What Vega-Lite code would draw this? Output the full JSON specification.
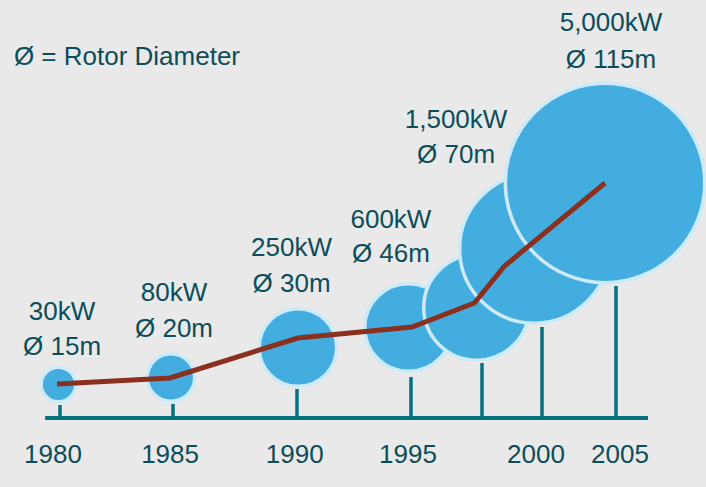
{
  "$schema": "https://vega.github.io/schema/vega-lite/v6.json",
  "width": 706,
  "height": 487,
  "autosize": "none",
  "padding": 0,
  "background": "#e9e9e9",
  "config": {"view": {"stroke": null}},
  "datasets": {
    "base": [{"from": 1979.34, "to": 2007.16, "level": 0}],
    "stems": [
      {"year": 1980, "top": 3.25},
      {"year": 1985, "top": 3.5},
      {"year": 1990, "top": 7.25},
      {"year": 1995, "top": 10.25},
      {"year": 1997.71, "top": 13.75},
      {"year": 2000, "top": 22.75},
      {"year": 2005, "top": 33}
    ],
    "turbines": [
      {"i": 1, "year": 1979.93, "level": 8.375, "r": 17.25},
      {"i": 2, "year": 1984.91, "level": 10.125, "r": 23.75},
      {"i": 3, "year": 1990.04, "level": 17.625, "r": 38.75},
      {"i": 4, "year": 1994.89, "level": 22.625, "r": 43.75},
      {"i": 5, "year": 1997.5, "level": 27.625, "r": 52.75},
      {"i": 6, "year": 1999.71, "level": 42.375, "r": 74.75},
      {"i": 7, "year": 2004.26, "level": 58.75, "r": 99.75}
    ],
    "trend": [
      {"i": 1, "year": 1979.87, "level": 8.5},
      {"i": 2, "year": 1984.87, "level": 10},
      {"i": 3, "year": 1990.04, "level": 20},
      {"i": 4, "year": 1995.04, "level": 22.75},
      {"i": 5, "year": 1997.42, "level": 28.75},
      {"i": 6, "year": 1998.57, "level": 38},
      {"i": 7, "year": 2004.26, "level": 58.75}
    ],
    "labels": [
      {"year": 1980.09, "level": 26.5, "text": "30kW"},
      {"year": 1980.09, "level": 17.75, "text": "Ø 15m"},
      {"year": 1985.04, "level": 31.25, "text": "80kW"},
      {"year": 1985.04, "level": 22.25, "text": "Ø 20m"},
      {"year": 1989.78, "level": 42.5, "text": "250kW"},
      {"year": 1989.78, "level": 33.5, "text": "Ø 30m"},
      {"year": 1994.12, "level": 49.5, "text": "600kW"},
      {"year": 1994.12, "level": 41, "text": "Ø 46m"},
      {"year": 1996.72, "level": 74.5, "text": "1,500kW"},
      {"year": 1996.72, "level": 65.75, "text": "Ø 70m"},
      {"year": 2004.66, "level": 98.75, "text": "5,000kW"},
      {"year": 2004.66, "level": 89.5, "text": "Ø 115m"},
      {"year": 1979.69, "level": -9.25, "text": "1980"},
      {"year": 1984.87, "level": -9.25, "text": "1985"},
      {"year": 1989.91, "level": -9.25, "text": "1990"},
      {"year": 1994.87, "level": -9.25, "text": "1995"},
      {"year": 1999.77, "level": -9.25, "text": "2000"},
      {"year": 2005.27, "level": -9.25, "text": "2005"}
    ],
    "note": [{"year": 1977.96, "level": 90.25, "text": "Ø = Rotor Diameter"}]
  },
  "layer": [
    {
      "data": {"name": "base"},
      "mark": {"type": "rule", "color": "#04717f", "strokeWidth": 4},
      "encoding": {
        "x": {"field": "from", "type": "quantitative", "axis": null,
              "scale": {"domain": [1980, 1985, 1990, 1995, 2000, 2005], "range": [60, 173, 297, 411, 542, 616], "nice": false, "zero": false}},
        "x2": {"field": "to"},
        "y": {"field": "level", "type": "quantitative", "axis": null,
              "scale": {"domain": [0, 100], "range": [418, 18], "nice": false, "zero": false}}
      }
    },
    {
      "data": {"name": "stems"},
      "mark": {"type": "rule", "color": "#04717f", "strokeWidth": 3.5},
      "encoding": {
        "x": {"field": "year", "type": "quantitative"},
        "y": {"field": "top", "type": "quantitative"},
        "y2": {"datum": 0}
      }
    },
    {
      "data": {"name": "turbines"},
      "mark": {"type": "point", "shape": "circle", "filled": true, "fill": "#43ade0", "fillOpacity": 1, "stroke": "#cdeaf8", "strokeWidth": 3.5, "opacity": 1},
      "encoding": {
        "x": {"field": "year", "type": "quantitative"},
        "y": {"field": "level", "type": "quantitative"},
        "size": {"field": "r", "type": "quantitative", "legend": null,
                 "scale": {"type": "pow", "exponent": 2, "domain": [0, 100], "range": [0, 40000]}},
        "order": {"field": "i"}
      }
    },
    {
      "data": {"name": "trend"},
      "mark": {"type": "line", "color": "#8b2f1f", "strokeWidth": 5, "strokeCap": "butt", "strokeJoin": "miter"},
      "encoding": {
        "x": {"field": "year", "type": "quantitative"},
        "y": {"field": "level", "type": "quantitative"},
        "order": {"field": "i"}
      }
    },
    {
      "data": {"name": "labels"},
      "mark": {"type": "text", "font": "Liberation Sans", "fontSize": 26, "color": "#0b4d5a", "align": "center", "baseline": "middle"},
      "encoding": {
        "x": {"field": "year", "type": "quantitative"},
        "y": {"field": "level", "type": "quantitative"},
        "text": {"field": "text"}
      }
    },
    {
      "data": {"name": "note"},
      "mark": {"type": "text", "font": "Liberation Sans", "fontSize": 26, "color": "#0b4d5a", "align": "left", "baseline": "middle"},
      "encoding": {
        "x": {"field": "year", "type": "quantitative"},
        "y": {"field": "level", "type": "quantitative"},
        "text": {"field": "text"}
      }
    }
  ]
}
